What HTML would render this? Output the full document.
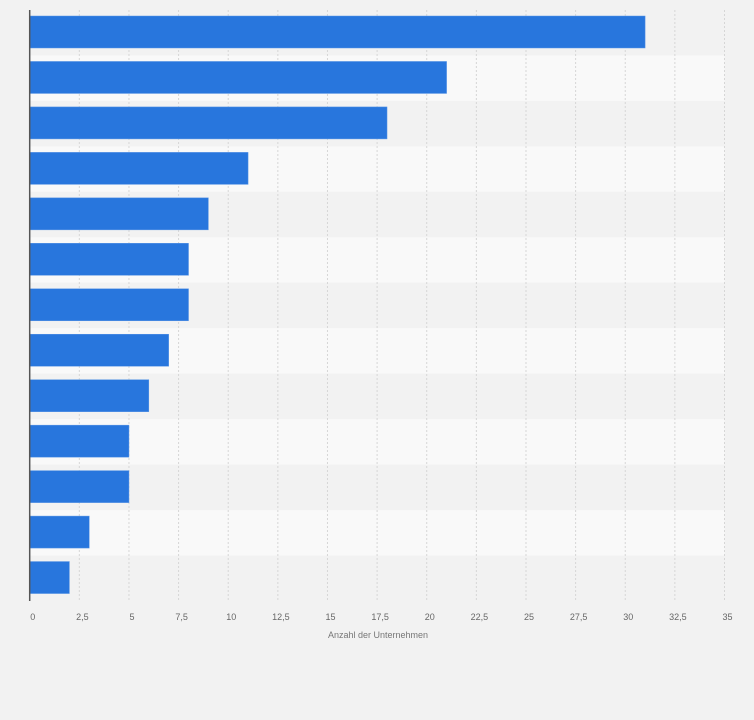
<!DOCTYPE html>
<html><head><meta charset="utf-8"><style>
body{margin:0;background:#f2f2f2;font-family:"Liberation Sans",sans-serif}
</style></head><body>
<svg id="chart" width="754" height="720" xmlns="http://www.w3.org/2000/svg" style="display:block"></svg>
<script>
const categories=["c1","c2","c3","c4","c5","c6","c7","c8","c9","c10","c11","c12","c13"];
const values=[31,21,18,11,9,8,8,7,6,5,5,3,2];
const ticks=[0,2.5,5,7.5,10,12.5,15,17.5,20,22.5,25,27.5,30,32.5,35];
const tickLabels=["0","2,5","5","7,5","10","12,5","15","17,5","20","22,5","25","27,5","30","32,5","35"];
const NS="http://www.w3.org/2000/svg";
const svg=document.getElementById('chart');
const x0=29.7,x1=724.5,xmax=35,y0=10,y1=601;
const band=(y1-y0)/categories.length;
function xs(v){return x0+v/xmax*(x1-x0);}
function ys(i){return y0+i*band;}
function mk(t,a){const e=document.createElementNS(NS,t);for(const k in a)e.setAttribute(k,a[k]);svg.appendChild(e);return e;}
categories.forEach((c,i)=>{
  const r=mk('rect',{x:x0,y:ys(i),width:x1-x0,height:band,fill:i%2?'#f9f9f9':'#f2f2f2'});
  
  
});
ticks.forEach((t,i)=>{
  if(i>0){const l=mk('line',{x1:xs(t),x2:xs(t),y1:y0,y2:y1,stroke:'#d6d6d6','stroke-dasharray':'2,2'});
  
  }
  const tx=mk('text',{x:xs(t)+3,y:620,'font-size':9,fill:'#666','text-anchor':'middle'});
  tx.textContent=tickLabels[i];
  
  
});
values.forEach((v,i)=>{
  const b=mk('rect',{x:x0,y:ys(i)+6,width:xs(v)-x0,height:32,fill:'#2876dd',stroke:'#5a96e6','stroke-width':0.5});
  
  
});
const ax=mk('line',{x1:x0,x2:x0,y1:y0,y2:y1,stroke:'#555','stroke-width':1.5});


const tt=mk('text',{x:378,y:638,'font-size':9,fill:'#777','text-anchor':'middle'});
tt.textContent='Anzahl der Unternehmen';


</script>
</body></html>
